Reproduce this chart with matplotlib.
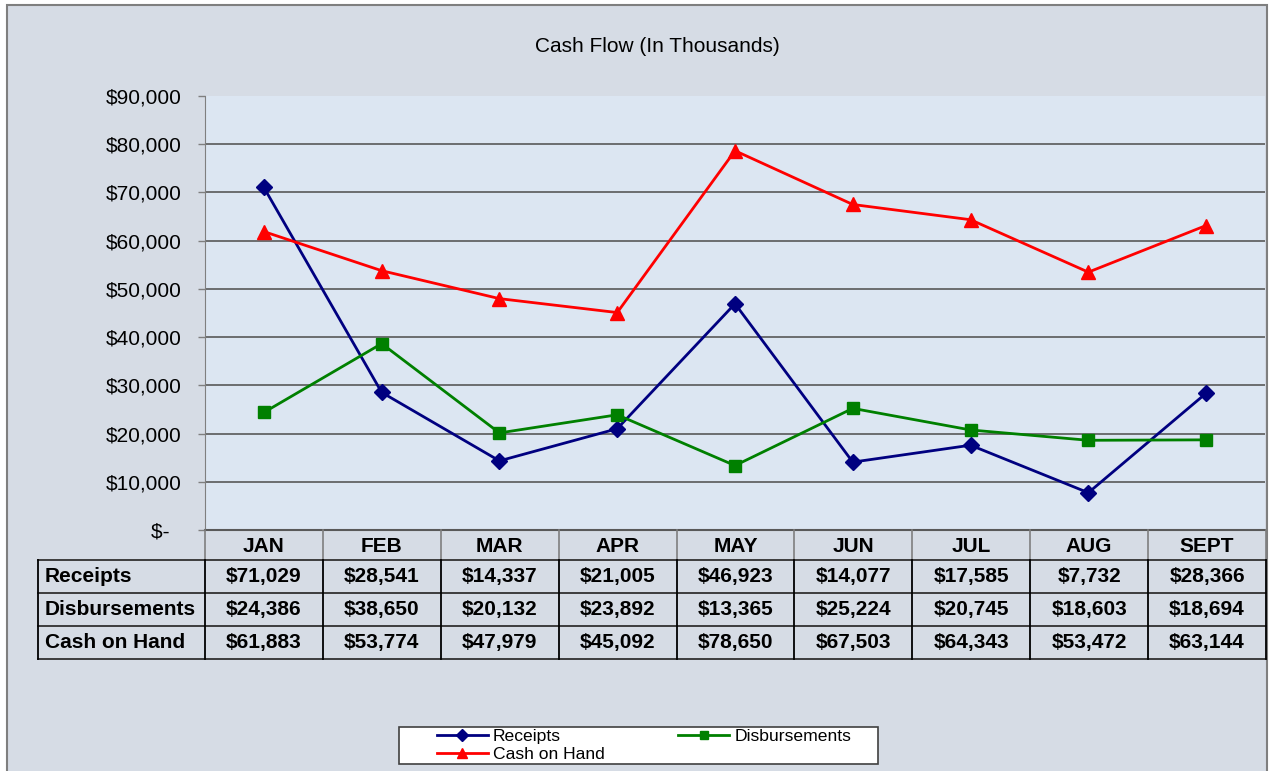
import matplotlib
matplotlib.use('Agg')
import matplotlib.pyplot as plt
from matplotlib.patches import Rectangle

months = ['JAN', 'FEB', 'MAR', 'APR', 'MAY', 'JUN', 'JUL', 'AUG', 'SEPT']
receipts = [71029, 28541, 14337, 21005, 46923, 14077, 17585, 7732, 28366]
disbursements = [24386, 38650, 20132, 23892, 13365, 25224, 20745, 18603, 18694]
cash_on_hand = [61883, 53774, 47979, 45092, 78650, 67503, 64343, 53472, 63144]
series_names = ['Receipts', 'Disbursements', 'Cash on Hand']
y_ticks = list(range(0, 90001, 10000))

plt.rcParams['font.family'] = ['Liberation Sans', 'DejaVu Sans']

W, H = 1270, 771
fig = plt.figure(figsize=(W / 100, H / 100), dpi=100)
fig.patch.set_facecolor('white')


def fx(px):
    return px / W


def fy(py):
    return 1 - py / H


def money(v):
    return '$-  ' if v == 0 else f'${v:,}'


# background / chart area
bg = fig.add_axes([0, 0, 1, 1], zorder=0)
bg.set_xlim(0, W)
bg.set_ylim(H, 0)
bg.axis('off')
bg.add_patch(Rectangle((7, 5), 1260, 800, facecolor='#D6DCE5',
                       edgecolor='#7F7F7F', lw=1.5))

# plot area
ax = fig.add_axes([fx(205), fy(530), (1265 - 205) / W, (530 - 96) / H], zorder=1)
ax.set_facecolor('#DCE6F2')
x = list(range(len(months)))
series = [receipts, disbursements, cash_on_hand]
colors = ['#000080', '#008000', '#FF0000']
markers = ['D', 's', '^']
msizes = [8, 8.5, 10]
for vals, name, c, m, s in zip(series, series_names, colors, markers, msizes):
    ax.plot(x, vals, color=c, marker=m, ms=s, lw=2, label=name, zorder=3)

ax.set_xlim(-0.5, len(months) - 0.5)
ax.set_ylim(0, 90000)
ax.set_yticks(y_ticks)
ax.set_yticklabels([money(v) for v in y_ticks])
ax.set_xticks([])
ax.grid(axis='y', color='#595959', lw=1.2)
ax.set_axisbelow(True)
for sp in ['top', 'right']:
    ax.spines[sp].set_visible(False)
ax.spines['left'].set_color('#7F7F7F')
ax.spines['bottom'].set_color('#595959')
ax.spines['bottom'].set_linewidth(1.5)
ax.tick_params(axis='y', length=5, width=1, color='#7F7F7F', pad=12,
               labelsize=15, labelcolor='black')
ax.yaxis.get_gridlines()[-1].set_visible(False)

# data table
tab = fig.add_axes([0, 0, 1, 1], zorder=2)
tab.set_xlim(0, W)
tab.set_ylim(H, 0)
tab.axis('off')
x0, x1 = 205, 1266
lab_x0 = 38
colw = (x1 - x0) / len(months)
rows_y = [530, 560, 593, 626, 659]
# header
for i in range(len(months) + 1):
    xx = x0 + i * colw
    tab.plot([xx, xx], [rows_y[0], rows_y[1]], color='#7F7F7F', lw=1.2)
for i, mth in enumerate(months):
    tab.text(x0 + (i + 0.5) * colw, (rows_y[0] + rows_y[1]) / 2 + 1, mth,
             ha='center', va='center', fontsize=15, fontweight='bold')
# body
for yy in rows_y[1:]:
    tab.plot([lab_x0, x1], [yy, yy], color='#303030', lw=1.3)
for xx in [lab_x0] + [x0 + i * colw for i in range(len(months) + 1)]:
    tab.plot([xx, xx], [rows_y[1], rows_y[-1]], color='black', lw=1.3)
for r, (name, vals) in enumerate(zip(series_names, series)):
    yc = (rows_y[r + 1] + rows_y[r + 2]) / 2
    tab.text(lab_x0 + 7, yc, name, ha='left', va='center', fontsize=15,
             fontweight='bold')
    for i, v in enumerate(vals):
        tab.text(x0 + (i + 0.5) * colw, yc, money(v), ha='center', va='center',
                 fontsize=15, fontweight='bold')

# legend box
tab.add_patch(Rectangle((399, 727), 479, 37, facecolor='white',
                        edgecolor='#404040', lw=1.2))

title = fig.text(fx(657), fy(46), 'Cash Flow (In Thousands)', ha='center',
                 va='center', fontsize=15)

h, l = ax.get_legend_handles_labels()
order = [0, 2, 1]
leg = fig.legend([h[i] for i in order], [l[i] for i in order], ncol=2,
                 loc='upper left', bbox_to_anchor=(fx(437), fy(729)),
                 frameon=False, borderpad=0, borderaxespad=0, fontsize=12.6,
                 handlelength=2.9, handletextpad=0.3, columnspacing=4.2,
                 labelspacing=0.17)
for hd, s in zip(leg.legend_handles, [6, 7, 6]):
    hd.set_markersize(s)
leg.set_zorder(10)

fig.savefig('out.png', dpi=100)
